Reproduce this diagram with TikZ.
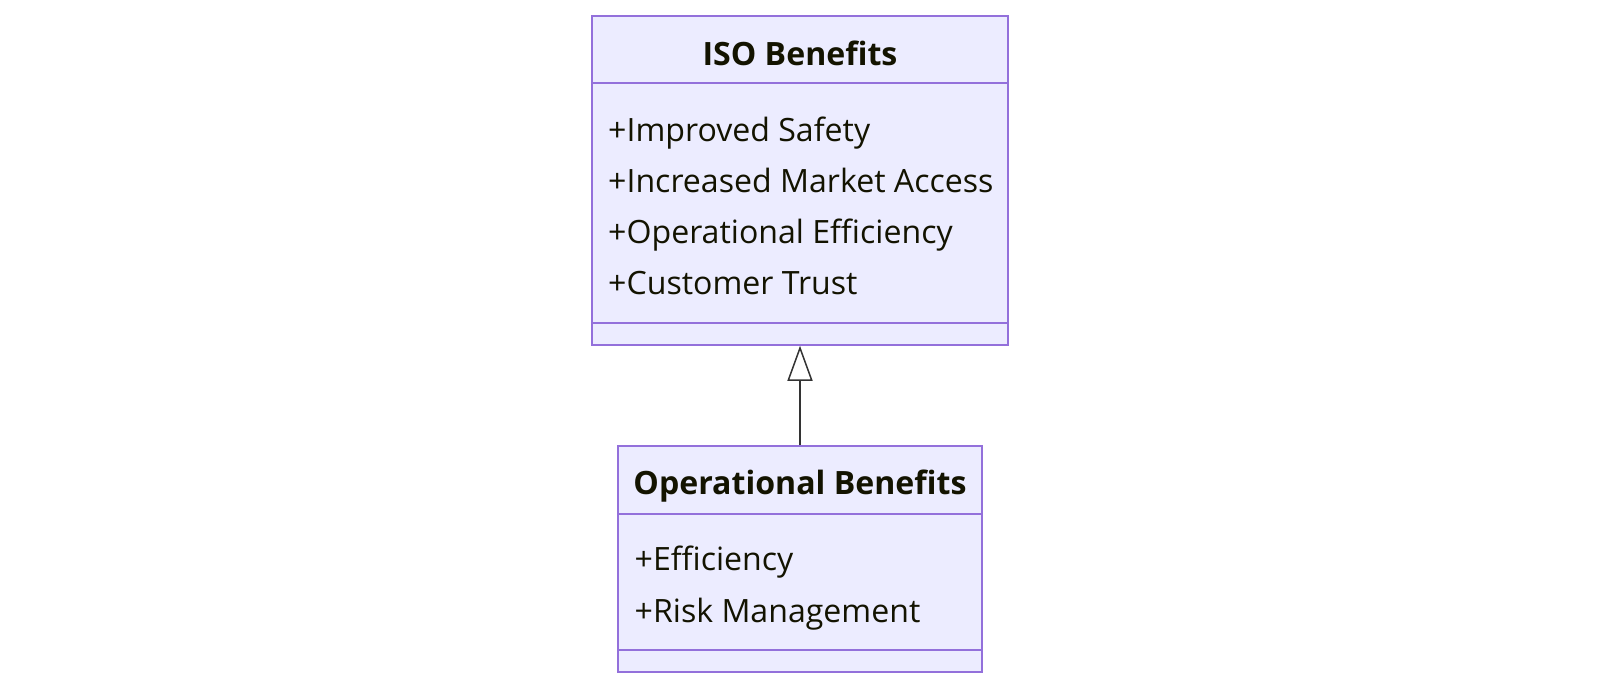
\documentclass[tikz,border=0pt]{standalone}
\usepackage{fontspec}
\setmainfont{Open Sans}
\usetikzlibrary{arrows.meta}
\definecolor{boxfill}{HTML}{ECECFF}
\definecolor{boxline}{HTML}{9370DB}
\definecolor{txt}{HTML}{131300}
\definecolor{edge}{HTML}{333333}
\tikzset{
  classbox/.style={draw=boxline, fill=boxfill, line width=1.5pt, rectangle, inner sep=0pt},
  divider/.style={draw=boxline, line width=1.5pt},
  titletext/.style={anchor=base, inner sep=0pt, text=txt, font=\fontsize{32.1}{38}\selectfont\bfseries},
  attrtext/.style={anchor=base west, inner sep=0pt, text=txt, font=\fontsize{32.1}{38}\selectfont},
  inherit/.style={draw=edge, line width=1.5pt, -{Triangle[open, length=35pt, width=25pt, fill=white]}}
}
\begin{document}
\begin{tikzpicture}[x=1pt, y=-1pt]
\useasboundingbox (0,0) rectangle (1600,688);
\fill[white] (0,0) rectangle (1600,688);
% ISO Benefits
\node[classbox, minimum width=416pt, minimum height=329pt] (iso) at (800,180.5) {};
\draw[divider] (592,83) -- (1008,83);
\draw[divider] (592,323) -- (1008,323);
\node[titletext] (isot) at (800,65) {ISO Benefits};
\node[attrtext] (isoa1) at (608,141.7) {+Improved Safety};
\node[attrtext] (isoa2) at (608,192.7) {+Increased Market Access};
\node[attrtext] (isoa3) at (608,243.7) {+Operational Efficiency};
\node[attrtext] (isoa4) at (608,294.7) {+Customer Trust};
% Operational Benefits
\node[classbox, minimum width=364pt, minimum height=226pt] (op) at (800,559) {};
\draw[divider] (618,514) -- (982,514);
\draw[divider] (618,650) -- (982,650);
\node[titletext] (opt) at (800,494) {Operational Benefits};
\node[attrtext] (opa1) at (634.5,570) {+Efficiency};
\node[attrtext] (opa2) at (634.5,622.7) {+Risk Management};
% inheritance
\draw[inherit] (op.north) -- (iso.south);
\end{tikzpicture}
\end{document}
